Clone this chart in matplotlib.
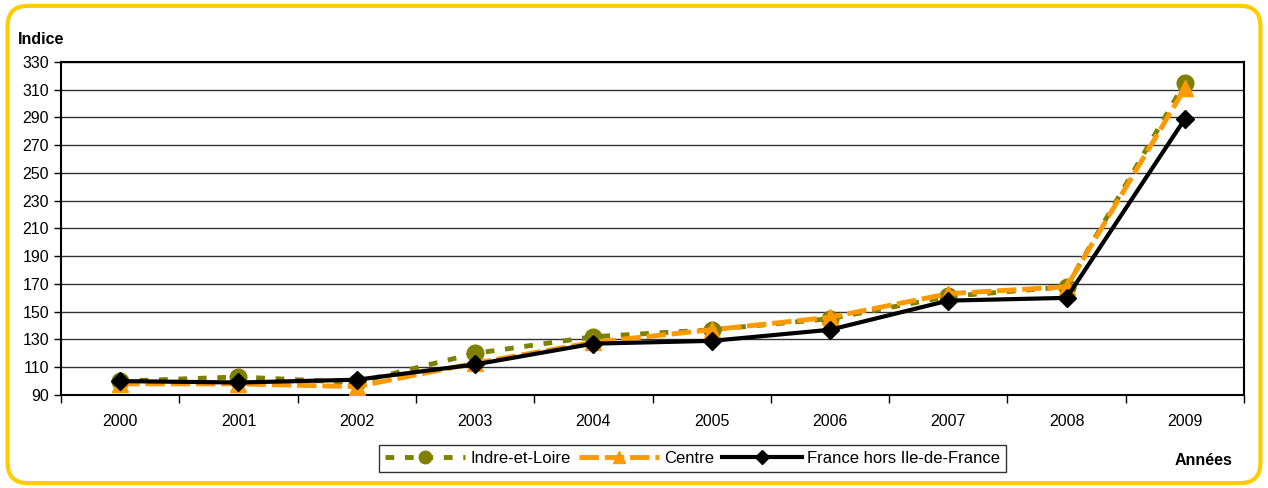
import matplotlib.pyplot as plt
from matplotlib.patches import FancyBboxPatch
import numpy as np

plt.rcParams['font.family'] = ['Liberation Sans', 'DejaVu Sans']

years = ['2000', '2001', '2002', '2003', '2004', '2005', '2006', '2007', '2008', '2009']
indre_et_loire = [100, 103, 99, 120, 132, 137, 145, 161, 168, 315]
centre = [98, 98, 96, 113, 128, 137, 146, 163, 168, 311]
france_hors_idf = [100, 99, 101, 112, 127, 129, 137, 158, 160, 289]
yticks = list(range(90, 331, 20))

fig = plt.figure(figsize=(12.68, 4.88), dpi=100)

# rounded yellow frame
frame = FancyBboxPatch((0.006, 0.01), 0.988, 0.978, boxstyle="round,pad=0,rounding_size=0.016",
                       transform=fig.transFigure, fc='none', ec='#FFCC00', lw=3,
                       mutation_aspect=1268 / 488, zorder=-1)
fig.patches.append(frame)

ax = fig.add_axes([0.0481, 0.1906, 0.9330, 0.6824])
x = np.arange(len(years))

ax.plot(x, indre_et_loire, color='#808000', lw=3.5, ls=(0, (1.8, 2.2)),
        marker='o', ms=12, label='Indre-et-Loire', zorder=3)
ax.plot(x, centre, color='#FF9900', lw=3.5, ls=(0, (4, 1.2)),
        marker='^', ms=11, label='Centre', zorder=4)
ax.plot(x, france_hors_idf, color='black', lw=3, ls='-',
        marker='D', ms=9, label='France hors Ile-de-France', zorder=5)

ax.set_xlim(-0.5, len(years) - 0.5)
ax.set_ylim(90, 330)
ax.set_yticks(yticks)
ax.yaxis.grid(True, color='#333333', lw=1)
ax.set_axisbelow(True)

ax.set_xticks(x)
ax.set_xticklabels(years)
ax.set_xticks(np.arange(-0.5, len(years), 1), minor=True)
ax.tick_params(axis='x', which='major', length=0, pad=14, labelsize=11.5)
ax.tick_params(axis='x', which='minor', length=6, width=1, direction='out')
ax.tick_params(axis='y', length=5, width=1, direction='out', labelsize=11.5)
for s in ax.spines.values():
    s.set_linewidth(1.5)

leg = ax.legend(loc='upper center', bbox_to_anchor=(0.534, -0.125), ncol=3,
                frameon=True, fancybox=False, edgecolor='black', fontsize=12,
                handlelength=4.8, handletextpad=0.3, columnspacing=0.5,
                borderpad=0.35, markerscale=0.75)
leg.get_frame().set_linewidth(1)

fig.text(0.014, 0.91, 'Indice', fontsize=11.5, fontweight='bold')
fig.text(0.972, 0.048, 'Années', fontsize=11.5, fontweight='bold', ha='right')

fig.savefig('out.png', dpi=100)
